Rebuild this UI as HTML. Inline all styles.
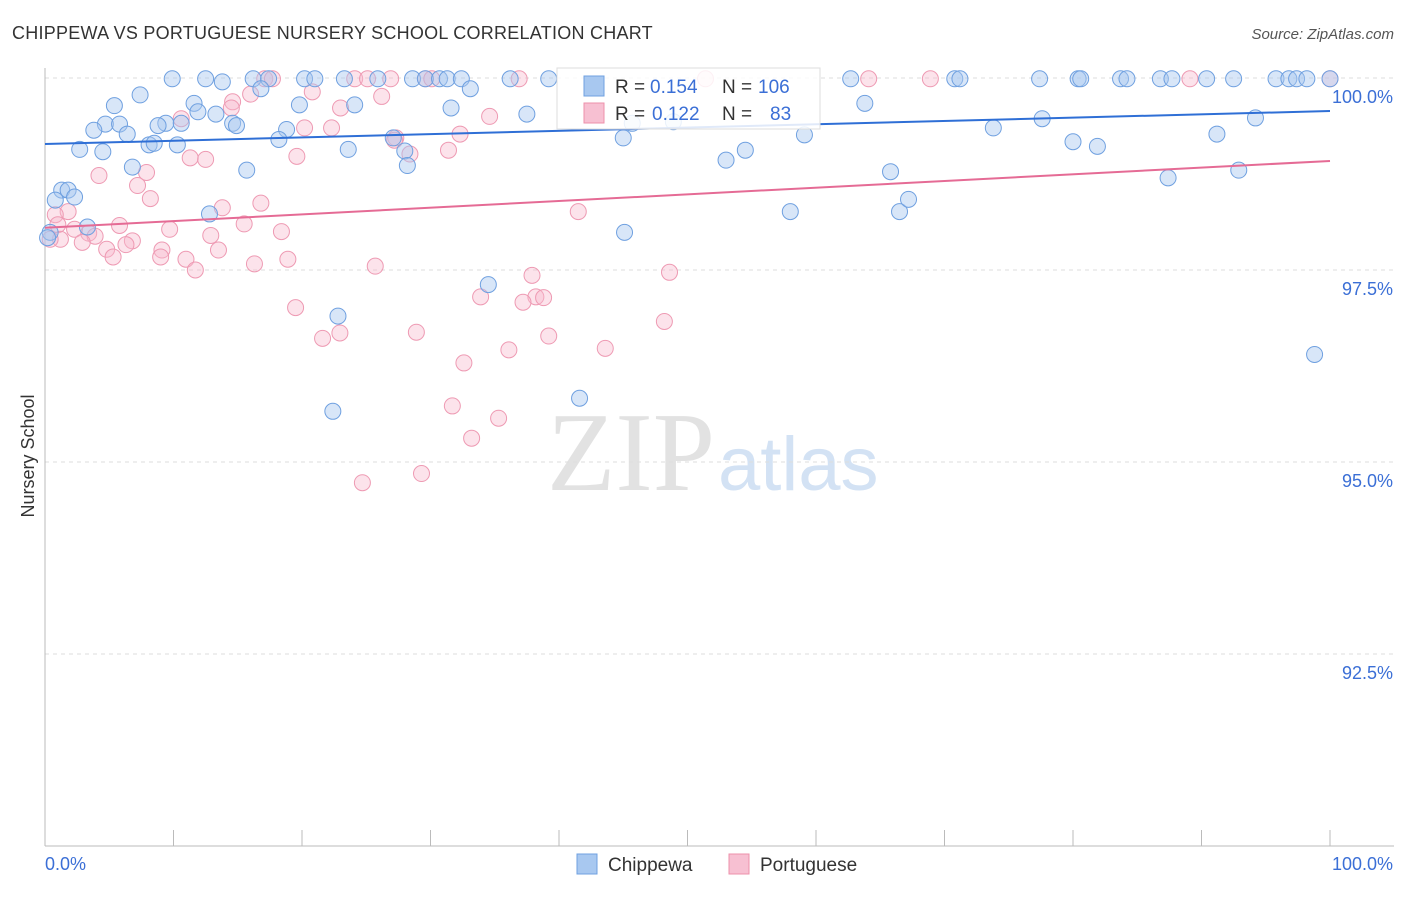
<!DOCTYPE html>
<html><head><meta charset="utf-8"><style>
body{margin:0;background:#fff;font-family:"Liberation Sans",sans-serif;}
</style></head><body>
<svg id="c" width="1406" height="892" xmlns="http://www.w3.org/2000/svg">
<text x="12" y="39" font-size="18" fill="#333" letter-spacing="0.25">CHIPPEWA VS PORTUGUESE NURSERY SCHOOL CORRELATION CHART</text>
<text x="1394" y="39" font-size="15" fill="#555" font-style="italic" text-anchor="end">Source: ZipAtlas.com</text>
<text x="715" y="490" font-size="112" fill="#e2e2e2" text-anchor="end" font-family="Liberation Serif,serif">ZIP</text>
<text x="718" y="490" font-size="76" fill="#d3e2f4">atlas</text>
<text transform="translate(34,456) rotate(-90)" font-size="18" fill="#333" text-anchor="middle">Nursery School</text>
<g id="grid"></g><g id="pts"></g><g id="lines"></g>
<g>
<rect x="557" y="68" width="263" height="61" fill="#fff" fill-opacity="0.85" stroke="#ddd"/>
<rect x="584" y="76" width="20" height="20" fill="#a8c8f0" stroke="#6fa0e0"/>
<text x="615" y="93" font-size="19" fill="#333">R =</text>
<text x="650" y="93" font-size="19" fill="#3b6fd6">0.154</text>
<text x="722" y="93" font-size="19" fill="#333">N =</text>
<text x="758" y="93" font-size="19" fill="#3b6fd6">106</text>
<rect x="584" y="103" width="20" height="20" fill="#f7c0d2" stroke="#ee90ab"/>
<text x="615" y="120" font-size="19" fill="#333">R =</text>
<text x="652" y="120" font-size="19" fill="#3b6fd6">0.122</text>
<text x="722" y="120" font-size="19" fill="#333">N =</text>
<text x="770" y="120" font-size="19" fill="#3b6fd6">83</text>
</g>
<g>
<rect x="577" y="854" width="20" height="20" fill="#a8c8f0" stroke="#6fa0e0"/>
<text x="608" y="871" font-size="19" fill="#333">Chippewa</text>
<rect x="729" y="854" width="20" height="20" fill="#f7c0d2" stroke="#ee90ab"/>
<text x="760" y="871" font-size="19" fill="#333">Portuguese</text>
</g>
</svg>
<script>
const yTicks=[100,97.5,95,92.5];
const yTickLabels=["100.0%","97.5%","95.0%","92.5%"];
const xTickLabels=["0.0%","100.0%"];
const blueX=[9.9,12.5,13.8,16.2,17.4,20.2,21,23.3,25.9,28.6,29.6,30.7,31.3,32.4,36.2,39.2,62.7,70.8,71.2,77.4,80.4,80.6,83.7,84.2,86.8,87.7,90.4,92.5,95.8,96.8,97.4,98.2,100,7.4,5.4,11.6,19.8,24.1,31.6,33.1,16.8,63.8,37.5,13.3,11.9,9.4,8.8,4.7,5.8,14.6,14.9,3.8,6.4,10.6,18.8,8.1,8.5,10.3,2.7,4.5,18.2,23.6,27.1,28,28.2,45,48.9,45.7,53,54.5,59.1,73.8,77.6,80,81.9,91.2,94.2,87.4,92.9,65.8,6.8,15.7,1.3,1.8,2.3,0.8,3.3,12.8,0.4,0.2,45.1,58,66.5,67.2,34.5,22.8,22.4,41.6,98.8];
const blueY=[99.99,99.99,99.95,99.99,99.99,99.99,99.99,99.99,99.99,99.99,99.99,99.99,99.99,99.99,99.99,99.99,99.99,99.99,99.99,99.99,99.99,99.99,99.99,99.99,99.99,99.99,99.99,99.99,99.99,99.99,99.99,99.99,99.99,99.78,99.64,99.67,99.65,99.65,99.61,99.86,99.86,99.67,99.53,99.53,99.56,99.41,99.38,99.40,99.40,99.41,99.38,99.32,99.27,99.41,99.33,99.13,99.15,99.13,99.07,99.04,99.20,99.07,99.22,99.05,98.86,99.22,99.43,99.41,98.93,99.06,99.26,99.35,99.47,99.17,99.11,99.27,99.48,98.70,98.80,98.78,98.84,98.80,98.54,98.54,98.45,98.41,98.06,98.23,97.99,97.92,97.99,98.26,98.26,98.42,97.31,96.90,95.66,95.83,96.40];
const pinkX=[17.1,17.7,24.1,25.1,26.9,29.6,30.1,36.9,51.4,64.1,68.9,89.1,100,20.8,26.2,16,14.6,14.5,23,10.6,34.6,22.3,20.2,32.3,27.3,27.2,28.4,31.4,19.6,11.3,12.5,4.2,7.9,7.2,8.2,16.8,13.8,41.5,15.5,5.8,9.7,1.8,0.8,1,2.3,3.4,3.9,1.2,0.4,2.9,6.8,6.3,4.8,9.1,13.5,12.9,18.4,18.9,5.3,9,10.97,11.7,16.3,25.7,37.9,48.6,33.9,38.2,38.8,37.2,19.5,48.2,28.9,22.95,21.6,39.2,36.1,43.6,32.6,31.7,35.3,33.2,29.3,24.7];
const pinkY=[99.99,99.99,99.99,99.99,99.99,99.99,99.99,99.99,99.99,99.99,99.99,99.99,99.99,99.82,99.76,99.79,99.69,99.61,99.61,99.47,99.50,99.35,99.35,99.27,99.22,99.19,99.01,99.06,98.98,98.96,98.94,98.73,98.77,98.60,98.43,98.37,98.31,98.26,98.10,98.08,98.03,98.26,98.22,98.09,98.03,97.98,97.94,97.90,97.90,97.86,97.88,97.83,97.77,97.76,97.76,97.95,98.00,97.64,97.67,97.67,97.64,97.50,97.58,97.55,97.43,97.47,97.15,97.15,97.14,97.08,97.01,96.83,96.69,96.68,96.61,96.64,96.46,96.48,96.29,95.73,95.57,95.31,94.85,94.73];
const blueTrend=[99.14,99.57], pinkTrend=[98.05,98.92];
const NS="http://www.w3.org/2000/svg";
const X0=45,X1=1330,Y100=78,PX=76.8;
const xs=v=>X0+(X1-X0)*v/100, ys=v=>Y100+(100-v)*PX;
function el(t,a,p){const e=document.createElementNS(NS,t);for(const k in a)e.setAttribute(k,a[k]);p.appendChild(e);return e;}
const g=document.getElementById('grid');
yTicks.forEach((t,i)=>{
 const l=el('line',{x1:X0,x2:1394,y1:ys(t),y2:ys(t),stroke:'#ddd','stroke-dasharray':'4,4'},g);
 
 
 const tx=el('text',{x:1393,y:ys(t)+25,'font-size':18,fill:'#3b6fd6','text-anchor':'end'},g);tx.textContent=yTickLabels[i];
 
 
});
el('line',{x1:X0,x2:X0,y1:68,y2:846,stroke:'#bbb'},g);
el('line',{x1:X0,x2:1394,y1:846,y2:846,stroke:'#bbb'},g);
for(let i=1;i<=10;i++){const x=xs(i*10);el('line',{x1:x,x2:x,y1:830,y2:846,stroke:'#bbb'},g);}
const t0=el('text',{x:45,y:870,'font-size':18,fill:'#3b6fd6'},g);t0.textContent=xTickLabels[0];


const t1=el('text',{x:1393,y:870,'font-size':18,fill:'#3b6fd6','text-anchor':'end'},g);t1.textContent=xTickLabels[1];


const p=document.getElementById('pts');
pinkX.forEach((x,i)=>{const c=el('circle',{cx:xs(x),cy:ys(pinkY[i]),r:8,fill:'rgba(247,184,204,0.4)',stroke:'#ee9ab3','stroke-width':1},p);
 
 });
blueX.forEach((x,i)=>{const c=el('circle',{cx:xs(x),cy:ys(blueY[i]),r:8,fill:'rgba(168,200,240,0.45)',stroke:'#6fa0e0','stroke-width':1},p);
 
 });
const L=document.getElementById('lines');
const b=el('line',{x1:xs(0),x2:xs(100),y1:ys(blueTrend[0]),y2:ys(blueTrend[1]),stroke:'#2f6fd6','stroke-width':2},L);


const pk=el('line',{x1:xs(0),x2:xs(100),y1:ys(pinkTrend[0]),y2:ys(pinkTrend[1]),stroke:'#e56b95','stroke-width':2},L);


</script>
</body></html>
